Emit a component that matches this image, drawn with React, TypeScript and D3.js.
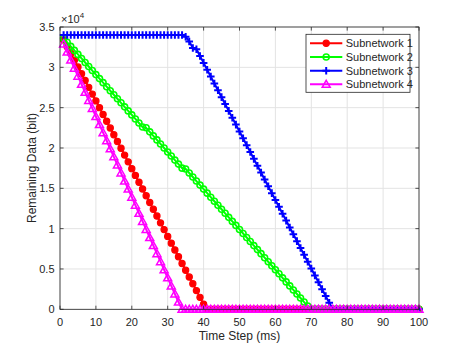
import React from "react";
import * as d3 from "d3";

const timeSteps: number[] = [
  1, 2, 3, 4, 5, 6, 7, 8, 9, 10, 11, 12, 13, 14, 15, 16, 17, 18, 19, 20,
  21, 22, 23, 24, 25, 26, 27, 28, 29, 30, 31, 32, 33, 34, 35, 36, 37, 38, 39, 40,
  41, 42, 43, 44, 45, 46, 47, 48, 49, 50, 51, 52, 53, 54, 55, 56, 57, 58, 59, 60,
  61, 62, 63, 64, 65, 66, 67, 68, 69, 70, 71, 72, 73, 74, 75, 76, 77, 78, 79, 80,
  81, 82, 83, 84, 85, 86, 87, 88, 89, 90, 91, 92, 93, 94, 95, 96, 97, 98, 99, 100,
];

const subnetwork1: number[] = [
  33400, 32560, 31720, 30880, 30040, 29200, 28360, 27520, 26680, 25840,
  25000, 24160, 23320, 22480, 21640, 20800, 19960, 19120, 18280, 17440,
  16600, 15760, 14920, 14080, 13240, 12400, 11560, 10720, 9880, 9040,
  8200, 7360, 6520, 5680, 4840, 4000, 3160, 2320, 1480, 640,
  0, 0, 0, 0, 0, 0, 0, 0, 0, 0,
  0, 0, 0, 0, 0, 0, 0, 0, 0, 0,
  0, 0, 0, 0, 0, 0, 0, 0, 0, 0,
  0, 0, 0, 0, 0, 0, 0, 0, 0, 0,
  0, 0, 0, 0, 0, 0, 0, 0, 0, 0,
  0, 0, 0, 0, 0, 0, 0, 0, 0, 0,
];

const subnetwork2: number[] = [
  33600, 33100, 32600, 32100, 31600, 31100, 30600, 30100, 29600, 29100,
  28600, 28100, 27600, 27100, 26600, 26100, 25600, 25100, 24600, 24100,
  23600, 23100, 22600, 22500, 22000, 21500, 21000, 20500, 20000, 19500,
  19000, 18500, 18000, 17500, 17400, 16900, 16400, 15900, 15400, 14900,
  14400, 13900, 13400, 12900, 12400, 11900, 11400, 10900, 10400, 9900,
  9400, 8900, 8400, 7900, 7400, 6900, 6400, 5900, 5400, 4900,
  4400, 3900, 3400, 2900, 2400, 1900, 1400, 900, 400, 0,
  0, 0, 0, 0, 0, 0, 0, 0, 0, 0,
  0, 0, 0, 0, 0, 0, 0, 0, 0, 0,
  0, 0, 0, 0, 0, 0, 0, 0, 0, 0,
];

const subnetwork3: number[] = [
  34000, 34000, 34000, 34000, 34000, 34000, 34000, 34000, 34000, 34000,
  34000, 34000, 34000, 34000, 34000, 34000, 34000, 34000, 34000, 34000,
  34000, 34000, 34000, 34000, 34000, 34000, 34000, 34000, 34000, 34000,
  34000, 34000, 34000, 34000, 33800, 33200, 32400, 32250, 31400, 30550,
  29700, 28850, 28000, 27150, 26300, 25450, 24600, 23750, 22900, 22050,
  21200, 20350, 19500, 18650, 17800, 16950, 16100, 15250, 14400, 13550,
  12700, 11850, 11000, 10150, 9300, 8450, 7600, 6750, 5900, 5050,
  4200, 3350, 2500, 1650, 800, 0, 0, 0, 0, 0,
  0, 0, 0, 0, 0, 0, 0, 0, 0, 0,
  0, 0, 0, 0, 0, 0, 0, 0, 0, 0,
];

const subnetwork4: number[] = [
  32900, 31900, 30900, 29900, 28900, 27900, 26900, 25900, 24900, 23900,
  22900, 21900, 20900, 19900, 18900, 17900, 16900, 15900, 14900, 13900,
  12900, 11900, 10900, 9900, 8900, 7900, 6900, 5900, 4900, 3900,
  2900, 1900, 900, 0, 0, 0, 0, 0, 0, 0,
  0, 0, 0, 0, 0, 0, 0, 0, 0, 0,
  0, 0, 0, 0, 0, 0, 0, 0, 0, 0,
  0, 0, 0, 0, 0, 0, 0, 0, 0, 0,
  0, 0, 0, 0, 0, 0, 0, 0, 0, 0,
  0, 0, 0, 0, 0, 0, 0, 0, 0, 0,
  0, 0, 0, 0, 0, 0, 0, 0, 0, 0,
];

const seriesNames: string[] = ["Subnetwork 1", "Subnetwork 2", "Subnetwork 3", "Subnetwork 4"];
const seriesColors: string[] = ["#ff0000", "#00ff00", "#0000ff", "#ff00ff"];
const seriesMarkers: string[] = ["dot", "circle", "plus", "triangle"];
const xTicks: number[] = [0, 10, 20, 30, 40, 50, 60, 70, 80, 90, 100];
const yTicks: number[] = [0, 5000, 10000, 15000, 20000, 25000, 30000, 35000];
const yTickLabels: string[] = ["0", "0.5", "1", "1.5", "2", "2.5", "3", "3.5"];

const W = 463;
const H = 348;
const left = 60;
const right = 419;
const top = 27;
const bottom = 309.3;
const font = "'Liberation Sans', Arial, Helvetica, sans-serif";
const axisColor = "#262626";

function Marker({ kind, x, y, color }: { kind: string; x: number; y: number; color: string }) {
  if (kind === "dot") {
    return <circle cx={x} cy={y} r={3.1} fill={color} stroke={color} strokeWidth={1.2} />;
  }
  if (kind === "circle") {
    return <circle cx={x} cy={y} r={3} fill="none" stroke={color} strokeWidth={1.6} />;
  }
  if (kind === "plus") {
    const s = 3.8;
    return (
      <path d={`M${x - s},${y}H${x + s}M${x},${y - s}V${y + s}`} stroke={color} strokeWidth={2} fill="none" />
    );
  }
  const s = 4;
  return (
    <path
      d={`M${x},${y - s}L${x + s},${y + s * 0.75}L${x - s},${y + s * 0.75}Z`}
      fill="none"
      stroke={color}
      strokeWidth={1.5}
    />
  );
}

export default function App() {
  const x = d3.scaleLinear().domain([0, 100]).range([left, right]);
  const y = d3.scaleLinear().domain([0, 35000]).range([bottom, top]);
  const allSeries = [subnetwork1, subnetwork2, subnetwork3, subnetwork4];
  const line = d3
    .line<number>()
    .x((_, i) => x(timeSteps[i]))
    .y((d) => y(d));
  const tickLen = 3.6;

  const legendX = 306;
  const legendY = 34.3;
  const legendW = 104;
  const legendH = 58;
  const rowY = [43.3, 57, 70.7, 84.3];

  return (
    <svg width={W} height={H} style={{ position: "absolute", left: 0, top: 0, background: "#fff" }}>
      <rect x={0} y={0} width={W} height={H} fill="#fff" />
      <g stroke="#e3e3e3" strokeWidth={1}>
        {xTicks.map((t) => (
          <line key={"gx" + t} x1={x(t)} x2={x(t)} y1={top} y2={bottom} />
        ))}
        {yTicks.map((t) => (
          <line key={"gy" + t} x1={left} x2={right} y1={y(t)} y2={y(t)} />
        ))}
      </g>
      {allSeries.map((s, si) => (
        <g key={"s" + si}>
          <path d={line(s) || ""} fill="none" stroke={seriesColors[si]} strokeWidth={2} />
          {s.map((v, i) => (
            <Marker key={i} kind={seriesMarkers[si]} x={x(timeSteps[i])} y={y(v)} color={seriesColors[si]} />
          ))}
        </g>
      ))}
      <rect x={left} y={top} width={right - left} height={bottom - top} fill="none" stroke={axisColor} strokeWidth={0.8} />
      <g stroke={axisColor} strokeWidth={0.8}>
        {xTicks.map((t) => (
          <g key={"tx" + t}>
            <line x1={x(t)} x2={x(t)} y1={bottom} y2={bottom - tickLen} />
            <line x1={x(t)} x2={x(t)} y1={top} y2={top + tickLen} />
          </g>
        ))}
        {yTicks.map((t) => (
          <g key={"ty" + t}>
            <line x1={left} x2={left + tickLen} y1={y(t)} y2={y(t)} />
            <line x1={right} x2={right - tickLen} y1={y(t)} y2={y(t)} />
          </g>
        ))}
      </g>
      <g fontFamily={font} fontSize={11} fill={axisColor}>
        {xTicks.map((t) => (
          <text key={"lx" + t} x={x(t)} y={326} textAnchor="middle">
            {t}
          </text>
        ))}
        {yTicks.map((t, i) => (
          <text key={"ly" + t} x={54.5} y={y(t) + 4} textAnchor="end">
            {yTickLabels[i]}
          </text>
        ))}
        <text x={61} y={23}>
          ×10
          <tspan fontSize={8} dy={-5}>
            4
          </tspan>
        </text>
        <text x={239.5} y={340} textAnchor="middle" fontSize={12}>
          Time Step (ms)
        </text>
        <text transform={`translate(36,168) rotate(-90)`} textAnchor="middle" fontSize={12}>
          Remaining Data (bit)
        </text>
      </g>
      <rect x={legendX} y={legendY} width={legendW} height={legendH} fill="#fff" stroke={axisColor} strokeWidth={0.8} />
      {seriesNames.map((name, i) => (
        <g key={"lg" + i}>
          <line x1={310} x2={342.3} y1={rowY[i]} y2={rowY[i]} stroke={seriesColors[i]} strokeWidth={2} />
          <Marker kind={seriesMarkers[i]} x={326.2} y={rowY[i]} color={seriesColors[i]} />
          <text x={345.7} y={rowY[i] + 4} fontFamily={font} fontSize={11} fill={axisColor}>
            {name}
          </text>
        </g>
      ))}
    </svg>
  );
}
